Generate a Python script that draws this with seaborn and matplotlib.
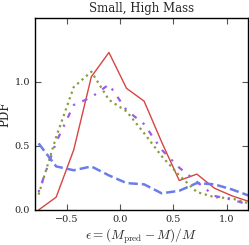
import numpy as np
import pandas as pd
import matplotlib
matplotlib.use("Agg")
import matplotlib.pyplot as plt
import seaborn as sns

# bin centres of the error histogram
eps = [-0.765, -0.600, -0.435, -0.270, -0.105, 0.060, 0.225,
       0.390, 0.555, 0.720, 0.885, 1.050, 1.215]

pdf_solid = [0.00, 0.10, 0.47, 1.04, 1.23, 0.95, 0.85, 0.53, 0.23, 0.28, 0.17, 0.11, 0.065]
pdf_dotted = [0.12, 0.57, 0.96, 1.08, 0.86, 0.77, 0.60, 0.42, 0.27, 0.14, 0.10, 0.09, 0.05]
pdf_dashdot = [0.14, 0.53, 0.82, 0.88, 0.98, 0.78, 0.67, 0.47, 0.33, 0.22, 0.11, 0.08, 0.04]
pdf_dashed = [0.52, 0.34, 0.31, 0.34, 0.27, 0.21, 0.20, 0.13, 0.15, 0.21, 0.20, 0.16, 0.11]

sns.set_style("ticks")
plt.rcParams["font.family"] = ["DejaVu Serif"]
plt.rcParams["mathtext.fontset"] = "cm"
plt.rcParams["xtick.direction"] = "in"
plt.rcParams["ytick.direction"] = "in"
plt.rcParams["xtick.top"] = True
plt.rcParams["ytick.right"] = True

fig = plt.figure(figsize=(2.49, 2.45), dpi=100)
ax = fig.add_axes([0.14, 0.143, 0.856, 0.784])

sns.lineplot(x=eps, y=pdf_solid, ax=ax, color="#d64541", linewidth=1.0)
sns.lineplot(x=eps, y=pdf_dotted, ax=ax, color="#86a03a", linewidth=1.6, linestyle=":")
sns.lineplot(x=eps, y=pdf_dashdot, ax=ax, color="#9b5de5", linewidth=1.6,
             dashes=(1, 3.5, 2.5, 3.5))
sns.lineplot(x=eps, y=pdf_dashed, ax=ax, color="#6b7de8", linewidth=1.8, linestyle="--")

ax.set_xlim(-0.8, 1.2)
ax.set_ylim(0, 1.5)
ax.set_xticks([-0.5, 0.0, 0.5, 1.0])
ax.set_yticks([0.0, 0.5, 1.0])
ax.tick_params(labelsize=7, length=4, width=0.8, color="#555555")
for s in ax.spines.values():
    s.set_color("black")
    s.set_linewidth(1.0)

ax.set_title("Small, High Mass", fontsize=8.5, pad=4)
ax.set_ylabel("PDF", fontsize=8.5, labelpad=2)
ax.set_xlabel(r"$\epsilon = (M_{\rm pred} - M)/M$", fontsize=9.5, labelpad=2)

fig.savefig("out.png", dpi=100)
